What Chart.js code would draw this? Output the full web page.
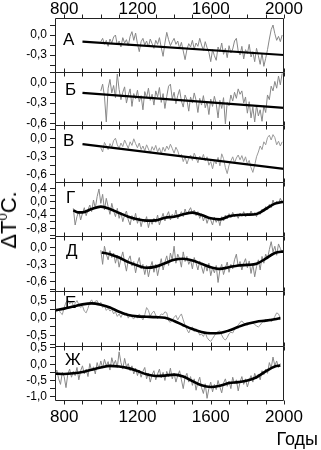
<!DOCTYPE html>
<html><head><meta charset="utf-8">
<script src="https://cdn.jsdelivr.net/npm/chart.js@4/dist/chart.umd.min.js"></script>
<style>
html,body{margin:0;padding:0;background:#fff;}
#wrap{position:relative;width:321px;height:450px;overflow:hidden;font-family:"Liberation Sans",Arial,sans-serif;}
#wrap canvas{position:absolute;left:0;}
#ytitle{position:absolute;left:9px;top:220px;transform:translate(-50%,-50%) rotate(-90deg);font-size:22px;line-height:22px;white-space:nowrap;color:#000;}
#ytitle sup{font-size:13px;vertical-align:9px;line-height:0;}
#xtitle{position:absolute;right:3px;top:430px;font-size:18px;line-height:18px;color:#000;white-space:nowrap;}
</style></head>
<body><div id="wrap"><div id="ytitle">ΔT<sup>0</sup>C.</div><div id="xtitle">Годы</div></div>
<script>
// ---- axes / labels ----
const X_MIN = 750, X_MAX = 2000;
const X_TICK_LABELS = [800, 1200, 1600, 2000];
const PANEL_LETTERS = ['А', 'Б', 'В', 'Г', 'Д', 'Е', 'Ж'];
const STEP = 10;

// ---- Panel А ----
const A_START = 1000;
const A_GRAY = [-0.10,-0.05,-0.14,-0.08,-0.17,-0.06,-0.12,-0.03,0.00,-0.15,
 -0.09,-0.18,-0.04,-0.12,-0.07,-0.16,-0.02,0.05,-0.08,0.03,
 -0.13,-0.25,-0.10,-0.05,-0.15,-0.09,-0.18,-0.06,-0.13,-0.20,
 -0.08,-0.14,-0.04,-0.19,-0.32,-0.12,0.04,-0.07,-0.16,-0.10,
 -0.05,-0.14,-0.09,-0.20,-0.11,-0.24,-0.37,-0.22,-0.13,-0.18,
 -0.08,-0.21,-0.12,-0.17,-0.05,-0.15,-0.23,-0.10,-0.19,-0.26,
 -0.40,-0.22,-0.31,-0.38,-0.18,-0.25,-0.12,-0.29,-0.20,-0.34,
 -0.16,-0.27,-0.21,-0.09,-0.05,-0.24,-0.30,-0.17,-0.36,-0.22,
 -0.28,-0.14,-0.33,-0.25,-0.40,-0.20,-0.31,-0.44,-0.27,-0.47,
 -0.35,-0.22,-0.06,0.08,0.15,0.02,-0.08,-0.02,-0.10,0.00];
const A_FIT_YEARS = [900, 2000];
const A_FIT = [-0.10, -0.30];
const A_Y_LABELS = [0, -0.3];

// ---- Panel Б ----
const B_START = 1000;
const B_GRAY = [-0.12,-0.02,-0.20,-0.58,-0.08,0.05,-0.15,-0.04,-0.22,0.13,
 -0.10,-0.25,-0.14,-0.06,-0.30,-0.18,-0.09,-0.35,-0.16,-0.24,
 -0.11,-0.28,-0.19,-0.40,-0.13,-0.22,-0.08,-0.26,-0.17,-0.33,
 -0.12,-0.21,-0.07,-0.29,-0.16,-0.38,-0.20,-0.05,-0.02,-0.24,
 -0.14,-0.31,-0.19,-0.10,-0.27,-0.36,-0.18,-0.25,-0.42,-0.21,
 -0.30,-0.15,-0.26,-0.44,-0.23,-0.33,-0.19,-0.37,-0.28,-0.47,
 -0.24,-0.35,-0.20,-0.31,-0.52,-0.26,-0.38,-0.22,-0.61,-0.29,
 -0.34,-0.18,-0.27,-0.14,-0.23,-0.09,-0.17,-0.12,-0.30,-0.21,
 -0.45,-0.28,-0.52,-0.36,-0.58,-0.33,-0.49,-0.40,-0.57,-0.34,
 -0.44,-0.18,-0.25,-0.05,-0.12,0.02,-0.08,0.10,-0.03,0.14];
const B_FIT_YEARS = [900, 2000];
const B_FIT = [-0.15, -0.37];
const B_Y_LABELS = [0, -0.3, -0.6];

// ---- Panel В ----
const V_START = 1000;
const V_GRAY = [-0.15,-0.22,-0.06,-0.12,-0.18,-0.08,-0.14,-0.03,0.01,-0.10,
 -0.16,-0.07,-0.13,-0.02,-0.09,-0.16,-0.05,-0.11,0.00,-0.08,
 -0.15,-0.07,-0.18,-0.12,-0.20,-0.10,-0.17,-0.24,-0.13,-0.19,
 -0.11,-0.22,-0.15,-0.25,-0.14,-0.21,-0.12,-0.18,-0.09,-0.16,
 -0.24,-0.14,-0.20,-0.30,-0.26,-0.38,-0.30,-0.42,-0.33,-0.27,
 -0.36,-0.24,-0.31,-0.40,-0.29,-0.35,-0.26,-0.37,-0.30,-0.44,
 -0.38,-0.50,-0.36,-0.42,-0.31,-0.45,-0.25,-0.33,-0.48,-0.58,
 -0.44,-0.37,-0.30,-0.40,-0.32,-0.27,-0.35,-0.28,-0.38,-0.30,
 -0.42,-0.36,-0.48,-0.56,-0.44,-0.30,-0.22,-0.12,-0.18,-0.05,
 -0.10,0.02,0.06,-0.02,0.07,0.02,-0.10,-0.04,-0.12,-0.05];
const V_FIT_YEARS = [900, 2000];
const V_FIT = [-0.09, -0.50];
const V_Y_LABELS = [0, -0.3, -0.6];

// ---- Panel Г ----
const G_START = 850;
const G_GRAY = [-0.20,-0.70,-0.45,-0.28,-0.55,-0.35,-0.18,-0.42,-0.25,-0.10,
 -0.30,0.05,-0.20,0.15,0.38,-0.05,0.22,-0.25,0.10,-0.15,
 -0.38,-0.05,-0.28,-0.45,-0.20,-0.50,-0.32,-0.60,-0.40,-0.28,
 -0.55,-0.70,-0.42,-0.58,-0.35,-0.65,-0.48,-0.75,-0.52,-0.62,
 -0.45,-0.78,-0.55,-0.68,-0.50,-0.62,-0.40,-0.70,-0.52,-0.35,
 -0.58,-0.42,-0.30,-0.55,-0.38,-0.48,-0.25,-0.52,-0.40,-0.30,
 -0.45,-0.22,-0.38,-0.28,-0.18,-0.35,-0.25,-0.42,-0.30,-0.50,
 -0.36,-0.58,-0.42,-0.65,-0.48,-0.55,-0.70,-0.46,-0.62,-0.50,
 -0.72,-0.45,-0.58,-0.40,-0.52,-0.36,-0.48,-0.32,-0.45,-0.38,
 -0.50,-0.34,-0.44,-0.30,-0.46,-0.36,-0.42,-0.28,-0.40,-0.33,
 -0.45,-0.30,-0.38,-0.22,-0.30,-0.15,-0.25,-0.08,-0.18,0.05,
 -0.10,0.02,-0.06,0.10,-0.02];
const G_FIT_YEARS = [850,875,900,950,1000,1050,1100,1150,1200,1250,1300,1350,1400,1450,1500,1550,1600,1650,1700,1750,1800,1850,1900,1950,2000];
const G_FIT = [-0.26,-0.32,-0.32,-0.22,-0.15,-0.22,-0.34,-0.45,-0.53,-0.57,-0.56,-0.48,-0.45,-0.38,-0.33,-0.40,-0.50,-0.53,-0.44,-0.40,-0.39,-0.37,-0.22,-0.06,0.00];
const G_Y_LABELS = [0.4, 0, -0.4, -0.8];

// ---- Panel Д ----
const D_START = 1000;
const D_GRAY = [-0.05,-0.30,0.02,-0.12,-0.22,-0.06,-0.18,-0.10,-0.28,-0.14,
 -0.35,-0.20,-0.08,-0.26,-0.42,-0.22,-0.15,-0.33,-0.25,-0.45,
 -0.28,-0.18,-0.38,-0.30,-0.48,-0.32,-0.52,-0.36,-0.25,-0.44,
 -0.30,-0.50,-0.34,-0.20,-0.40,-0.26,-0.15,-0.32,-0.10,-0.22,
 0.02,-0.28,-0.12,-0.20,-0.35,-0.08,-0.25,-0.16,-0.30,-0.22,
 -0.38,-0.18,-0.28,-0.40,-0.24,-0.34,-0.46,-0.30,-0.42,-0.28,
 -0.50,-0.36,-0.45,-0.32,-0.62,-0.40,-0.30,-0.48,-0.36,-0.26,
 -0.44,-0.30,-0.38,-0.22,-0.12,-0.34,-0.25,-0.40,-0.28,-0.20,
 -0.36,-0.24,-0.46,-0.30,-0.52,-0.34,-0.22,-0.40,-0.16,-0.28,
 -0.12,-0.20,-0.04,0.10,-0.08,0.02,-0.14,0.06,-0.02,-0.10];
const D_FIT_YEARS = [1005,1050,1100,1150,1200,1250,1300,1350,1400,1450,1500,1550,1600,1650,1700,1750,1800,1850,1900,1950,2000];
const D_FIT = [-0.09,-0.12,-0.18,-0.26,-0.32,-0.36,-0.34,-0.28,-0.22,-0.20,-0.23,-0.29,-0.35,-0.38,-0.35,-0.32,-0.31,-0.29,-0.20,-0.10,-0.07];
const D_Y_LABELS = [0, -0.3, -0.6];

// ---- Panel Е ----
const E_START = 750;
const E_GRAY = [0.20,0.18,0.25,0.15,0.10,0.30,0.45,0.52,0.40,0.48,
 0.35,0.42,0.50,0.38,0.30,0.35,0.20,0.15,0.28,0.45,
 0.52,0.40,0.48,0.50,0.38,0.45,0.30,0.35,0.22,0.28,
 0.20,0.25,0.12,0.18,0.05,0.12,0.02,0.14,0.08,0.15,
 0.00,0.10,0.02,-0.02,0.08,0.00,0.12,0.04,-0.05,0.10,
 0.30,0.22,0.05,0.15,0.20,0.08,-0.02,0.05,0.12,0.10,
 0.18,0.15,-0.08,-0.12,-0.05,0.02,0.08,-0.05,0.05,0.12,
 -0.05,-0.20,-0.32,-0.42,-0.30,-0.25,-0.38,-0.30,-0.36,-0.48,
 -0.45,-0.52,-0.40,-0.55,-0.62,-0.66,-0.58,-0.50,-0.42,-0.38,
 -0.36,-0.48,-0.58,-0.62,-0.55,-0.44,-0.40,-0.42,-0.32,-0.25,
 -0.20,-0.12,-0.08,-0.14,-0.18,-0.20,-0.16,-0.12,-0.14,-0.18,
 -0.22,-0.25,-0.20,-0.12,-0.08,-0.04,-0.08,-0.02,-0.10,-0.06,
 0.05,0.15,0.12,0.00];
const E_FIT_YEARS = [750,800,850,900,950,1000,1050,1100,1150,1200,1250,1300,1350,1400,1450,1500,1550,1600,1650,1700,1750,1800,1850,1900,1950,1980];
const E_FIT = [0.22,0.27,0.33,0.39,0.42,0.38,0.30,0.18,0.09,0.05,0.04,0.03,0.01,-0.08,-0.20,-0.31,-0.39,-0.43,-0.42,-0.35,-0.25,-0.16,-0.10,-0.07,-0.03,0.00];
const E_Y_LABELS = [0.5, 0, -0.5];

// ---- Panel Ж ----
const ZH_START = 750;
const ZH_GRAY = [-0.30,-0.18,-0.45,-0.62,-0.25,-0.38,-0.72,-0.30,-0.15,-0.40,
 -0.22,-0.35,-0.10,-0.48,-0.20,-0.05,-0.30,-0.15,-0.38,0.02,
 -0.20,-0.08,-0.30,0.05,-0.15,0.10,-0.12,0.15,-0.05,0.08,
 -0.18,0.20,-0.02,0.12,-0.10,0.38,0.05,-0.15,0.18,-0.08,
 0.02,-0.20,-0.05,-0.30,-0.12,-0.35,-0.18,-0.40,-0.22,-0.10,
 -0.45,-0.28,-0.55,-0.32,-0.20,-0.48,-0.30,-0.15,-0.42,-0.25,
 -0.50,-0.22,-0.38,-0.12,-0.45,-0.28,-0.55,-0.35,-0.20,-0.48,
 -0.75,-0.40,-0.28,-0.55,-0.38,-0.65,-0.45,-0.80,-0.55,-0.40,
 -0.72,-0.90,-0.60,-1.05,-0.75,-0.55,-0.85,-0.62,-0.78,-0.50,
 -0.70,-0.88,-0.58,-0.45,-0.68,-0.52,-0.75,-0.40,-0.60,-0.48,
 -0.82,-0.55,-0.38,-0.62,-0.45,-0.70,-0.50,-0.35,-0.55,-0.28,
 -0.45,-0.30,-0.48,-0.20,-0.32,-0.15,-0.28,0.05,-0.12,0.22,
 -0.05,0.10,-0.10,0.02];
const ZH_FIT_YEARS = [750,800,850,900,950,1000,1050,1100,1150,1200,1250,1300,1350,1400,1450,1500,1550,1600,1650,1700,1750,1800,1850,1900,1950,1980];
const ZH_FIT = [-0.29,-0.30,-0.28,-0.24,-0.17,-0.10,-0.05,-0.07,-0.12,-0.21,-0.31,-0.36,-0.35,-0.32,-0.38,-0.52,-0.65,-0.70,-0.66,-0.58,-0.55,-0.50,-0.40,-0.22,-0.07,-0.04];
const ZH_Y_LABELS = [0.5, 0, -0.5, -1.0];

// ---- layout (page pixels) ----
const PLOT_LEFT = 55, PLOT_RIGHT = 284;
const panels = [
  {top:18,  h:54, ymin:-0.555, ymax:0.255, minor:0.15, start:A_START, gray:A_GRAY, fy:A_FIT_YEARS, fit:A_FIT, labels:A_Y_LABELS, smooth:false, light:false, ldx:8,  ldy:27},
  {top:72,  h:53, ymin:-0.625, ymax:0.16,  minor:0.15, start:B_START, gray:B_GRAY, fy:B_FIT_YEARS, fit:B_FIT, labels:B_Y_LABELS, smooth:false, light:false, ldx:10, ldy:23},
  {top:125, h:57, ymin:-0.72,  ymax:0.23,  minor:0.15, start:V_START, gray:V_GRAY, fy:V_FIT_YEARS, fit:V_FIT, labels:V_Y_LABELS, smooth:false, light:true,  ldx:8,  ldy:21},
  {top:182, h:54, ymin:-1.03,  ymax:0.59,  minor:0.2,  start:G_START, gray:G_GRAY, fy:G_FIT_YEARS, fit:G_FIT, labels:G_Y_LABELS, smooth:true,  light:false, ldx:11, ldy:21},
  {top:236, h:55, ymin:-0.77,  ymax:0.20,  minor:0.15, start:D_START, gray:D_GRAY, fy:D_FIT_YEARS, fit:D_FIT, labels:D_Y_LABELS, smooth:true,  light:false, ldx:11, ldy:20},
  {top:291, h:55, ymin:-0.79,  ymax:0.77,  minor:0.25, start:E_START, gray:E_GRAY, fy:E_FIT_YEARS, fit:E_FIT, labels:E_Y_LABELS, smooth:true,  light:true,  ldx:10, ldy:17},
  {top:346, h:54, ymin:-1.10,  ymax:0.56,  minor:0.25, start:ZH_START, gray:ZH_GRAY, fy:ZH_FIT_YEARS, fit:ZH_FIT, labels:ZH_Y_LABELS, smooth:true, light:false, ldx:10, ldy:19}
];

function fmt(v) {
  const r = Math.round(v * 10) / 10;
  if (Math.abs(r) < 1e-9) return '0,0';
  return r.toFixed(1).replace('.', ',');
}

const framePlugin = {
  id: 'frame',
  afterDraw(chart) {
    const o = chart.options.plugins.frame;
    const {ctx, chartArea: a, scales: {x}} = chart;
    ctx.save();
    ctx.strokeStyle = '#222';
    ctx.lineWidth = 1;
    const L = Math.round(a.left) + 0.5, R = Math.round(a.right) - 0.5;
    const T = Math.round(a.top) + 0.5, B = Math.round(a.bottom) + 0.5;
    ctx.beginPath();
    ctx.moveTo(L, T); ctx.lineTo(R, T); ctx.lineTo(R, B); ctx.lineTo(L, B); ctx.closePath();
    ctx.stroke();
    ctx.beginPath();
    for (let v = 800; v <= X_MAX; v += 100) {
      const px = Math.round(x.getPixelForValue(v)) + 0.5;
      if (o.topOut) { ctx.moveTo(px, T); ctx.lineTo(px, T - 4); }
      else { ctx.moveTo(px, T); ctx.lineTo(px, T + 4); }
      if (o.bottomOut) { ctx.moveTo(px, B); ctx.lineTo(px, B + 4); }
      else { ctx.moveTo(px, B); ctx.lineTo(px, B - 4); }
    }
    ctx.stroke();
    ctx.fillStyle = '#000';
    ctx.font = '17px "Liberation Sans", Arial, sans-serif';
    ctx.textBaseline = 'alphabetic';
    ctx.textAlign = 'left';
    ctx.fillText(o.letter, a.left + o.dx, a.top + o.dy);
    ctx.restore();
  }
};

const wrap = document.getElementById('wrap');
const M = 10;
panels.forEach((p, i) => {
  const first = i === 0, last = i === panels.length - 1;
  const cTop = first ? 0 : p.top - M;
  const cH = last ? 450 - cTop : (p.top + p.h + M) - cTop;
  const canvas = document.createElement('canvas');
  canvas.width = 321; canvas.height = cH;
  canvas.style.top = cTop + 'px';
  canvas.style.width = '321px'; canvas.style.height = cH + 'px';
  wrap.insertBefore(canvas, wrap.firstChild);

  const grayPts = p.gray.map((v, k) => ({x: p.start + k * STEP, y: v}));
  const fitPts = p.fy.map((yr, k) => ({x: yr, y: p.fit[k]}));

  const showX = first || last;
  const xAxis = {
    type: 'linear', min: X_MIN, max: X_MAX,
    display: showX,
    position: first ? 'top' : 'bottom',
    grid: {display: false, drawTicks: false, tickLength: 0},
    border: {display: false},
    ticks: {
      color: '#000', padding: first ? 0 : 9, autoSkip: false, maxRotation: 0, minRotation: 0,
      font: {family: '"Liberation Sans", Arial, sans-serif', size: 17, lineHeight: 1},
      callback: (v) => String(v)
    },
    afterBuildTicks: (s) => { s.ticks = X_TICK_LABELS.map(v => ({value: v})); },
    afterFit: (s) => {
      if (!showX) { s.height = 0; s.paddingLeft = 0; s.paddingRight = 0; return; }
      s.height = first ? 18 : (cH - M - p.h);
      s.paddingLeft = 0; s.paddingRight = 0;
    }
  };

  new Chart(canvas, {
    type: 'line',
    data: {
      datasets: [
        {data: fitPts, borderColor: '#000', borderWidth: p.smooth ? 2.6 : 2.2, pointRadius: 0,
         cubicInterpolationMode: p.smooth ? 'monotone' : 'default', tension: 0},
        {data: grayPts, borderColor: p.light ? '#9a9a9a' : '#888888', borderWidth: 1, pointRadius: 0, tension: 0}
      ]
    },
    options: {
      responsive: false, animation: false, events: [],
      devicePixelRatio: 1,
      layout: {padding: {top: first ? 0 : M, bottom: last ? 0 : M, left: 0, right: 321 - PLOT_RIGHT}},
      plugins: {
        legend: {display: false}, tooltip: {enabled: false},
        frame: {letter: PANEL_LETTERS[i], dx: p.ldx, dy: p.ldy, topOut: first, bottomOut: last}
      },
      scales: {
        x: xAxis,
        y: {
          type: 'linear', min: p.ymin, max: p.ymax, bounds: 'ticks',
          ticks: {
            stepSize: p.minor, includeBounds: false, autoSkip: false, padding: 3, color: '#000',
            font: {family: '"Liberation Sans", Arial, sans-serif', size: 12},
            callback: (v) => p.labels.some(l => Math.abs(l - v) < 1e-6) ? fmt(v) : ''
          },
          grid: {drawOnChartArea: false, drawTicks: true, tickLength: 5, color: '#222'},
          border: {display: false},
          afterFit: (s) => { s.width = PLOT_LEFT; s.paddingTop = 0; s.paddingBottom = 0; }
        }
      }
    },
    plugins: [framePlugin]
  });
});
</script>
</body></html>
